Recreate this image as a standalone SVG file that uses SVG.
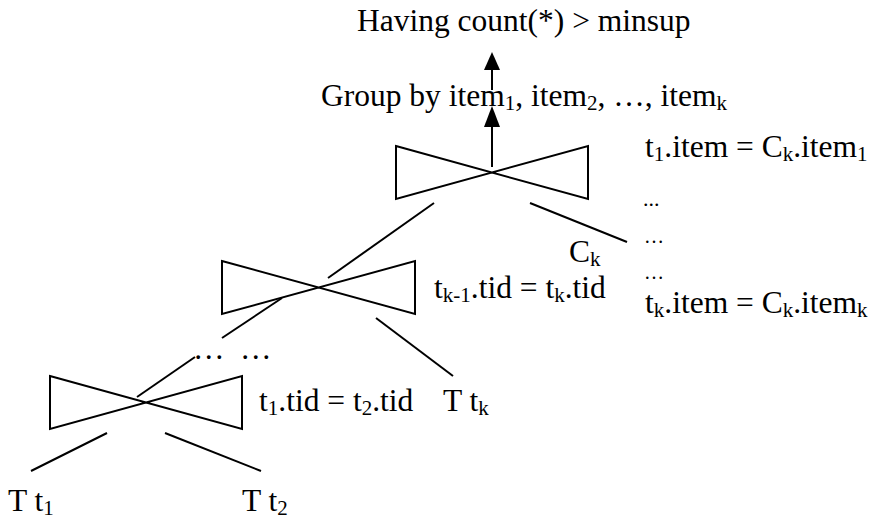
<svg xmlns="http://www.w3.org/2000/svg" width="874" height="519" viewBox="0 0 874 519">
<style>
text{font-family:"Liberation Serif","Times New Roman",serif;font-size:31.5px;fill:#000}
.s{font-size:21px}
.dots{font-size:20px}
.bt{fill:none;stroke:#000;stroke-width:2;stroke-linejoin:miter}
.ln{stroke:#000;stroke-width:2;fill:none}
.ah{fill:#000}
</style>
<rect width="874" height="519" fill="#fff"/>
<g id="connectors">
<line class="ln" x1="492" y1="90" x2="492" y2="68"/>
<polygon class="ah" points="492,52 484,70 500,70"/>
<line class="ln" x1="492" y1="167" x2="492" y2="125"/>
<polygon class="ah" points="492,106 484,127 500,127"/>
<line class="ln" x1="434" y1="203" x2="328" y2="278"/>
<line class="ln" x1="530" y1="203" x2="627" y2="242"/>
<line class="ln" x1="282" y1="298" x2="222" y2="338"/>
<line class="ln" x1="195" y1="357" x2="137" y2="397"/>
<line class="ln" x1="376" y1="318" x2="453" y2="376"/>
<line class="ln" x1="107" y1="433" x2="31" y2="471"/>
<line class="ln" x1="165" y1="433" x2="261" y2="471"/>
</g>
<g id="having"><text x="357" y="31">Having count(*) &gt; minsup</text></g>
<g id="groupby"><text x="321" y="106">Group by item<tspan class="s" dy="4">1</tspan><tspan dy="-4">, item</tspan><tspan class="s" dy="4">2</tspan><tspan dy="-4">, …, item</tspan><tspan class="s" dy="4">k</tspan></text></g>
<g id="join-top">
<polygon class="bt" points="396,146 588,199 588,146 396,199"/>
<text x="645" y="157">t<tspan class="s" dy="4">1</tspan><tspan dy="-4">.item = C</tspan><tspan class="s" dy="4">k</tspan><tspan dy="-4">.item</tspan><tspan class="s" dy="4">1</tspan></text>
<text class="dots" x="643" y="206" style="font-size:22px">...</text>
<text class="dots" x="644" y="243">…</text>
<text class="dots" x="644" y="279">…</text>
<text x="645" y="313">t<tspan class="s" dy="4">k</tspan><tspan dy="-4">.item = C</tspan><tspan class="s" dy="4">k</tspan><tspan dy="-4">.item</tspan><tspan class="s" dy="4">k</tspan></text>
</g>
<g id="ck"><text x="569" y="262">C<tspan class="s" dy="4">k</tspan></text></g>
<g id="join-mid">
<polygon class="bt" points="222,261 415,314 415,261 222,314"/>
<text x="434" y="298">t<tspan class="s" dy="4">k-1</tspan><tspan dy="-4">.tid = t</tspan><tspan class="s" dy="4">k</tspan><tspan dy="-4">.tid</tspan></text>
</g>
<g id="ellipsis"><text x="193" y="359">…<tspan x="240">…</tspan></text></g>
<g id="tk"><text x="443" y="411">T t<tspan class="s" dy="4">k</tspan></text></g>
<g id="join-bottom">
<polygon class="bt" points="50,376 242,429 242,376 50,429"/>
<text x="259" y="411">t<tspan class="s" dy="4">1</tspan><tspan dy="-4">.tid = t</tspan><tspan class="s" dy="4">2</tspan><tspan dy="-4">.tid</tspan></text>
</g>
<g id="t1"><text x="8" y="511">T t<tspan class="s" dy="4">1</tspan></text></g>
<g id="t2"><text x="242" y="511">T t<tspan class="s" dy="4">2</tspan></text></g>
</svg>
